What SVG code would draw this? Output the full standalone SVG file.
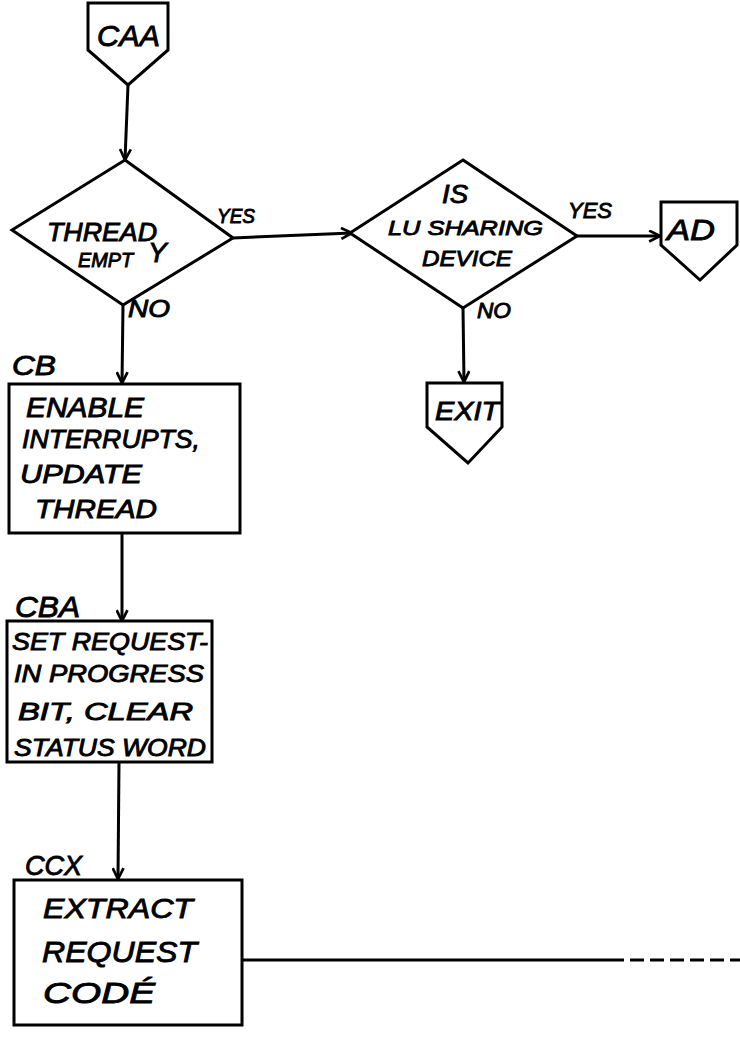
<svg xmlns="http://www.w3.org/2000/svg" width="740" height="1037" viewBox="0 0 740 1037">
<style>
.s{fill:#fff;stroke:#000;stroke-width:3;stroke-linejoin:miter}
.t{font-family:"Liberation Sans",Arial,sans-serif;font-style:italic;fill:#000;stroke:#000;stroke-width:0.9}
.c{stroke:#000;stroke-width:3;fill:none}
</style>
<defs>
<marker id="ah" viewBox="0 0 12 12" refX="11" refY="6" markerWidth="13" markerHeight="13" markerUnits="userSpaceOnUse" orient="auto">
<path d="M1,1 L11,6 L1,11" fill="none" stroke="#000" stroke-width="2.5"/>
</marker>
</defs>
<rect width="740" height="1037" fill="#fff"/>
<g id="connectors">
<line class="c" x1="128" y1="85" x2="125" y2="160" marker-end="url(#ah)"/>
<line class="c" x1="233" y1="238" x2="352" y2="233" marker-end="url(#ah)"/>
<line class="c" x1="577" y1="236" x2="660" y2="236" marker-end="url(#ah)"/>
<line class="c" x1="463" y1="308" x2="464" y2="382" marker-end="url(#ah)"/>
<line class="c" x1="123" y1="305" x2="122" y2="383" marker-end="url(#ah)"/>
<line class="c" x1="122" y1="533" x2="122" y2="621" marker-end="url(#ah)"/>
<line class="c" x1="119" y1="762" x2="118" y2="879" marker-end="url(#ah)" stroke-width="2"/>
<line class="c" x1="242" y1="960" x2="610" y2="960" stroke-width="2"/>
<line class="c" x1="610" y1="960" x2="740" y2="960" stroke-width="2" stroke-dasharray="14,6"/>
</g>
<g id="caa">
<path class="s" d="M88,3 L168,3 L168,50 L128,85 L88,50 Z"/>
<text class="t" x="97" y="46" font-size="30" textLength="63" lengthAdjust="spacingAndGlyphs">CAA</text>
</g>
<g id="thread-empty">
<path class="s" d="M125,160 L233,238 L123,305 L12,230 Z"/>
<text class="t" x="47" y="241" font-size="25" textLength="110" lengthAdjust="spacingAndGlyphs">THREAD</text>
<text class="t" x="78" y="267" font-size="20" textLength="55" lengthAdjust="spacingAndGlyphs">EMPT</text>
<text class="t" x="148" y="262" font-size="28">Y</text>
<text class="t" x="217" y="223" font-size="20" textLength="38" lengthAdjust="spacingAndGlyphs">YES</text>
<text class="t" x="128" y="317" font-size="24" textLength="42" lengthAdjust="spacingAndGlyphs">NO</text>
</g>
<g id="lu-sharing">
<path class="s" d="M463,160 L577,236 L463,308 L350,233 Z"/>
<text class="t" x="442" y="203" font-size="25" textLength="26" lengthAdjust="spacingAndGlyphs">IS</text>
<text class="t" x="388" y="235" font-size="21" textLength="155" lengthAdjust="spacingAndGlyphs">LU SHARING</text>
<text class="t" x="422" y="266" font-size="22" textLength="90" lengthAdjust="spacingAndGlyphs">DEVICE</text>
<text class="t" x="568" y="218" font-size="22" textLength="44" lengthAdjust="spacingAndGlyphs">YES</text>
<text class="t" x="477" y="318" font-size="22" textLength="34" lengthAdjust="spacingAndGlyphs">NO</text>
</g>
<g id="ad">
<path class="s" d="M661,202 L737,202 L737,245 L700,280 L661,245 Z"/>
<text class="t" x="667" y="240" font-size="30" textLength="48" lengthAdjust="spacingAndGlyphs">AD</text>
</g>
<g id="exit">
<path class="s" d="M427,383 L502,383 L502,427 L468,463 L427,427 Z"/>
<text class="t" x="435" y="420" font-size="26" textLength="64" lengthAdjust="spacingAndGlyphs">EXIT</text>
</g>
<g id="cb">
<text class="t" x="12" y="375" font-size="27" textLength="44" lengthAdjust="spacingAndGlyphs">CB</text>
<rect class="s" x="9" y="384" width="231" height="149"/>
<text class="t" x="26" y="417" font-size="27" textLength="118" lengthAdjust="spacingAndGlyphs">ENABLE</text>
<text class="t" x="22" y="448" font-size="26" textLength="178" lengthAdjust="spacingAndGlyphs">INTERRUPTS,</text>
<text class="t" x="20" y="483" font-size="26" textLength="122" lengthAdjust="spacingAndGlyphs">UPDATE</text>
<text class="t" x="35" y="518" font-size="26" textLength="122" lengthAdjust="spacingAndGlyphs">THREAD</text>
</g>
<g id="cba">
<text class="t" x="15" y="617" font-size="30" textLength="65" lengthAdjust="spacingAndGlyphs">CBA</text>
<rect class="s" x="7" y="621" width="205" height="141"/>
<text class="t" x="12" y="650" font-size="24" textLength="196" lengthAdjust="spacingAndGlyphs">SET REQUEST-</text>
<text class="t" x="14" y="682" font-size="24" textLength="190" lengthAdjust="spacingAndGlyphs">IN PROGRESS</text>
<text class="t" x="18" y="720" font-size="24" textLength="175" lengthAdjust="spacingAndGlyphs">BIT, CLEAR</text>
<text class="t" x="14" y="756" font-size="24" textLength="192" lengthAdjust="spacingAndGlyphs">STATUS WORD</text>
</g>
<g id="ccx">
<text class="t" x="25" y="875" font-size="28" textLength="57" lengthAdjust="spacingAndGlyphs">CCX</text>
<rect class="s" x="14" y="880" width="228" height="145" stroke-width="5"/>
<text class="t" x="43" y="918" font-size="28" textLength="150" lengthAdjust="spacingAndGlyphs">EXTRACT</text>
<text class="t" x="42" y="962" font-size="30" textLength="155" lengthAdjust="spacingAndGlyphs">REQUEST</text>
<text class="t" x="43" y="1003" font-size="30" textLength="112" lengthAdjust="spacingAndGlyphs">CODÉ</text>
</g>
</svg>
